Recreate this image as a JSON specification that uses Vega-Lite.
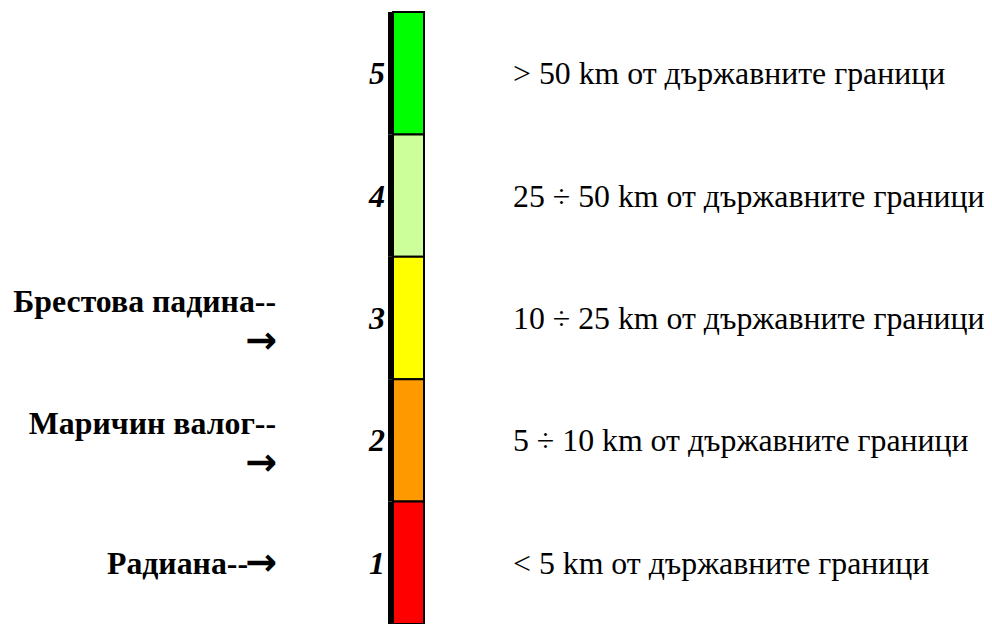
{
  "$schema": "https://vega.github.io/schema/vega-lite/v6.json",
  "width": 992,
  "height": 612,
  "autosize": "none",
  "padding": {"top": 12, "left": 0, "right": 0, "bottom": 0},
  "background": "white",
  "config": {"view": {"stroke": null}, "font": "Liberation Serif"},
  "datasets": {
    "zones": [
      {"zone": 5, "color": "#00FF00", "desc": "> 50 km от държавните граници"},
      {"zone": 4, "color": "#CCFF99", "desc": "25 ÷ 50 km от държавните граници"},
      {"zone": 3, "color": "#FFFF00", "desc": "10 ÷ 25 km от държавните граници"},
      {"zone": 2, "color": "#FF9900", "desc": "5 ÷ 10 km от държавните граници"},
      {"zone": 1, "color": "#FF0000", "desc": "< 5 km от държавните граници"}
    ],
    "sitesWrapped": [
      {"zone": 3, "site": "Брестова падина--"},
      {"zone": 2, "site": "Маричин валог--"}
    ],
    "sitesInline": [
      {"zone": 1, "site": "Радиана--"}
    ]
  },
  "data": {"name": "zones"},
  "encoding": {
    "y": {
      "field": "zone",
      "type": "ordinal",
      "sort": "descending",
      "scale": {"paddingInner": 0, "paddingOuter": 0},
      "axis": null
    }
  },
  "layer": [
    {
      "mark": {"type": "bar", "stroke": "black", "strokeWidth": 2},
      "encoding": {
        "x": {"value": 393},
        "x2": {"value": 424},
        "color": {"field": "color", "type": "nominal", "scale": null}
      }
    },
    {
      "mark": {"type": "bar", "color": "black"},
      "encoding": {
        "x": {"value": 388},
        "x2": {"value": 394}
      }
    },
    {
      "mark": {"type": "text", "align": "right", "baseline": "middle", "fontSize": 32, "fontWeight": "bold", "fontStyle": "italic", "color": "black", "dy": 1},
      "encoding": {
        "x": {"value": 385},
        "text": {"field": "zone", "type": "ordinal"}
      }
    },
    {
      "mark": {"type": "text", "align": "left", "baseline": "middle", "fontSize": 31.8, "color": "black", "dy": 1},
      "encoding": {
        "x": {"value": 513},
        "text": {"field": "desc", "type": "nominal"}
      }
    },
    {
      "data": {"name": "sitesWrapped"},
      "mark": {"type": "text", "align": "right", "baseline": "middle", "fontSize": 31.8, "fontWeight": "bold", "color": "black", "dy": -16},
      "encoding": {
        "x": {"value": 276},
        "text": {"field": "site", "type": "nominal"}
      }
    },
    {
      "data": {"name": "sitesWrapped"},
      "mark": {"type": "text", "align": "right", "baseline": "middle", "fontSize": 38, "fontWeight": "bold", "font": "DejaVu Sans", "color": "black", "dy": 24, "text": "→"},
      "encoding": {
        "x": {"value": 277}
      }
    },
    {
      "data": {"name": "sitesInline"},
      "mark": {"type": "text", "align": "right", "baseline": "middle", "fontSize": 31.8, "fontWeight": "bold", "color": "black", "dy": 1},
      "encoding": {
        "x": {"value": 248},
        "text": {"field": "site", "type": "nominal"}
      }
    },
    {
      "data": {"name": "sitesInline"},
      "mark": {"type": "text", "align": "right", "baseline": "middle", "fontSize": 38, "fontWeight": "bold", "font": "DejaVu Sans", "color": "black", "dy": 1, "text": "→"},
      "encoding": {
        "x": {"value": 277}
      }
    }
  ]
}
